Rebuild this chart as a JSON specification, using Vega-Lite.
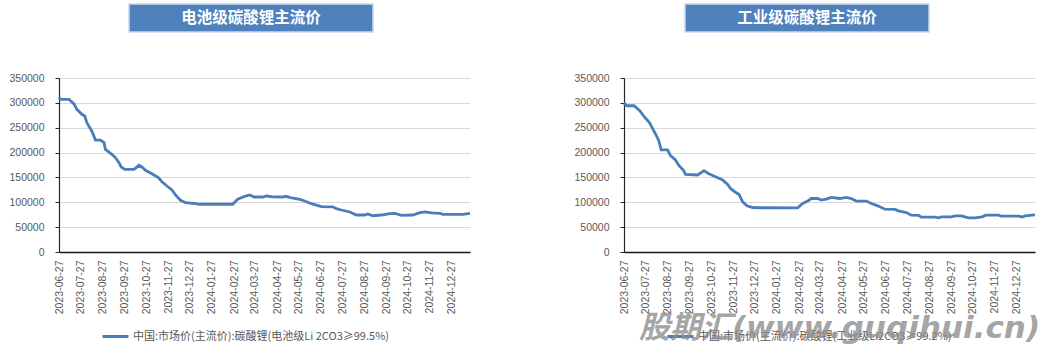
{
  "$schema": "https://vega.github.io/schema/vega-lite/v6.json",
  "background": "white",
  "padding": {"left": 8, "top": 3, "right": 0, "bottom": 0},
  "config": {
    "view": {"stroke": null},
    "font": "Liberation Sans",
    "axis": {"labelFont": "Liberation Sans", "labelFontSize": 10.5, "labelColor": "#595959", "title": null}
  },
  "resolve": {"scale": {"color": "independent", "x": "independent", "y": "independent"}, "legend": {"color": "independent"}},
  "datasets": {
    "battery": [
      {"date": "2023-06-27", "price": 311000},
      {"date": "2023-06-29", "price": 307000},
      {"date": "2023-07-11", "price": 307000},
      {"date": "2023-07-18", "price": 298000},
      {"date": "2023-07-22", "price": 287000},
      {"date": "2023-07-29", "price": 277000},
      {"date": "2023-08-02", "price": 273500},
      {"date": "2023-08-05", "price": 260000},
      {"date": "2023-08-12", "price": 243000},
      {"date": "2023-08-17", "price": 225000},
      {"date": "2023-08-24", "price": 225000},
      {"date": "2023-08-29", "price": 220000},
      {"date": "2023-08-31", "price": 206500},
      {"date": "2023-09-09", "price": 196500},
      {"date": "2023-09-14", "price": 189700},
      {"date": "2023-09-19", "price": 179600},
      {"date": "2023-09-22", "price": 171000},
      {"date": "2023-09-27", "price": 166300},
      {"date": "2023-10-10", "price": 166300},
      {"date": "2023-10-17", "price": 174400},
      {"date": "2023-10-21", "price": 171000},
      {"date": "2023-10-26", "price": 164300},
      {"date": "2023-11-04", "price": 157500},
      {"date": "2023-11-13", "price": 149500},
      {"date": "2023-11-18", "price": 141400},
      {"date": "2023-11-25", "price": 132800},
      {"date": "2023-12-02", "price": 124700},
      {"date": "2023-12-07", "price": 114700},
      {"date": "2023-12-14", "price": 104000},
      {"date": "2023-12-21", "price": 99200},
      {"date": "2024-01-04", "price": 97200},
      {"date": "2024-01-09", "price": 96000},
      {"date": "2024-02-25", "price": 96000},
      {"date": "2024-03-03", "price": 106000},
      {"date": "2024-03-14", "price": 112600},
      {"date": "2024-03-20", "price": 114700},
      {"date": "2024-03-26", "price": 110600},
      {"date": "2024-04-07", "price": 110600},
      {"date": "2024-04-12", "price": 112600},
      {"date": "2024-04-21", "price": 111000},
      {"date": "2024-05-05", "price": 110600},
      {"date": "2024-05-09", "price": 112000},
      {"date": "2024-05-16", "price": 109200},
      {"date": "2024-05-29", "price": 106000},
      {"date": "2024-06-02", "price": 104000},
      {"date": "2024-06-14", "price": 97200},
      {"date": "2024-06-28", "price": 91100},
      {"date": "2024-07-14", "price": 90900},
      {"date": "2024-07-19", "price": 87100},
      {"date": "2024-07-26", "price": 84500},
      {"date": "2024-08-07", "price": 80500},
      {"date": "2024-08-16", "price": 74400},
      {"date": "2024-08-28", "price": 74400},
      {"date": "2024-09-01", "price": 76400},
      {"date": "2024-09-08", "price": 73000},
      {"date": "2024-09-20", "price": 74400},
      {"date": "2024-10-02", "price": 77000},
      {"date": "2024-10-09", "price": 77600},
      {"date": "2024-10-18", "price": 73800},
      {"date": "2024-11-03", "price": 74400},
      {"date": "2024-11-13", "price": 79000},
      {"date": "2024-11-20", "price": 80500},
      {"date": "2024-11-29", "price": 78500},
      {"date": "2024-12-11", "price": 77600},
      {"date": "2024-12-15", "price": 75800},
      {"date": "2025-01-12", "price": 75800},
      {"date": "2025-01-22", "price": 77600}
    ],
    "industrial": [
      {"date": "2023-06-27", "price": 299500},
      {"date": "2023-07-01", "price": 294200},
      {"date": "2023-07-11", "price": 294200},
      {"date": "2023-07-19", "price": 284200},
      {"date": "2023-07-25", "price": 272600},
      {"date": "2023-07-30", "price": 264600},
      {"date": "2023-08-02", "price": 259200},
      {"date": "2023-08-07", "price": 245700},
      {"date": "2023-08-12", "price": 232300},
      {"date": "2023-08-15", "price": 222200},
      {"date": "2023-08-18", "price": 205400},
      {"date": "2023-08-27", "price": 205400},
      {"date": "2023-08-31", "price": 193900},
      {"date": "2023-09-07", "price": 185200},
      {"date": "2023-09-12", "price": 173700},
      {"date": "2023-09-18", "price": 165000},
      {"date": "2023-09-21", "price": 156100},
      {"date": "2023-10-08", "price": 154900},
      {"date": "2023-10-17", "price": 163600},
      {"date": "2023-10-23", "price": 158100},
      {"date": "2023-11-02", "price": 151500},
      {"date": "2023-11-12", "price": 144800},
      {"date": "2023-11-19", "price": 135900},
      {"date": "2023-11-23", "price": 127800},
      {"date": "2023-11-29", "price": 121200},
      {"date": "2023-12-05", "price": 115700},
      {"date": "2023-12-10", "price": 101000},
      {"date": "2023-12-16", "price": 92900},
      {"date": "2023-12-24", "price": 89500},
      {"date": "2023-12-31", "price": 89000},
      {"date": "2024-02-25", "price": 88900},
      {"date": "2024-03-03", "price": 97600},
      {"date": "2024-03-10", "price": 102400},
      {"date": "2024-03-15", "price": 107600},
      {"date": "2024-03-24", "price": 107600},
      {"date": "2024-03-29", "price": 104400},
      {"date": "2024-04-05", "price": 106500},
      {"date": "2024-04-12", "price": 109700},
      {"date": "2024-04-24", "price": 107600},
      {"date": "2024-05-03", "price": 109700},
      {"date": "2024-05-10", "price": 107600},
      {"date": "2024-05-17", "price": 102400},
      {"date": "2024-05-31", "price": 102400},
      {"date": "2024-06-07", "price": 97600},
      {"date": "2024-06-16", "price": 92900},
      {"date": "2024-06-26", "price": 86200},
      {"date": "2024-07-10", "price": 85600},
      {"date": "2024-07-15", "price": 82800},
      {"date": "2024-07-26", "price": 79400},
      {"date": "2024-08-02", "price": 74100},
      {"date": "2024-08-12", "price": 73700},
      {"date": "2024-08-16", "price": 70100},
      {"date": "2024-09-04", "price": 70100},
      {"date": "2024-09-09", "price": 68700},
      {"date": "2024-09-13", "price": 70700},
      {"date": "2024-09-27", "price": 70700},
      {"date": "2024-10-02", "price": 72700},
      {"date": "2024-10-11", "price": 72700},
      {"date": "2024-10-21", "price": 68700},
      {"date": "2024-10-30", "price": 68700},
      {"date": "2024-11-09", "price": 70700},
      {"date": "2024-11-14", "price": 74100},
      {"date": "2024-12-02", "price": 74100},
      {"date": "2024-12-06", "price": 72000},
      {"date": "2024-12-30", "price": 72000},
      {"date": "2025-01-04", "price": 70500},
      {"date": "2025-01-08", "price": 72700},
      {"date": "2025-01-22", "price": 74700}
    ]
  },
  "spacing": 40,
  "vconcat": [
    {
      "spacing": 0,
      "hconcat": [
        {
          "width": 69,
          "height": 28,
          "data": {"values": [{"t": ""}]},
          "mark": {"type": "text"},
          "encoding": {"text": {"field": "t"}}
        },
        {
          "spacing": 310,
          "hconcat": [
            {
              "width": 244,
              "height": 28,
              "view": {"fill": "#4f81bd", "stroke": "#c9d7ea", "strokeWidth": 1.5},
              "data": {"values": [{"t": "电池级碳酸锂主流价"}]},
              "mark": {"type": "text", "color": "white", "font": "Noto Sans CJK SC", "fontWeight": "bold", "fontSize": 15.5, "align": "center", "baseline": "middle"},
              "encoding": {"text": {"field": "t"}}
            },
            {
              "width": 244,
              "height": 28,
              "view": {"fill": "#4f81bd", "stroke": "#c9d7ea", "strokeWidth": 1.5},
              "data": {"values": [{"t": "工业级碳酸锂主流价"}]},
              "mark": {"type": "text", "color": "white", "font": "Noto Sans CJK SC", "fontWeight": "bold", "fontSize": 15.5, "align": "center", "baseline": "middle"},
              "encoding": {"text": {"field": "t"}}
            }
          ]
        }
      ]
    },
    {
      "spacing": 97,
      "resolve": {"scale": {"color": "independent"}, "legend": {"color": "independent"}},
      "hconcat": [
        {
          "width": 411,
          "height": 174,
          "data": {"name": "battery"},
          "mark": {"type": "line", "strokeWidth": 2.8},
          "encoding": {
            "x": {
              "field": "date", "type": "temporal",
              "scale": {"type": "utc", "nice": false},
              "axis": {
                "values": [
                  {"year": 2023, "month": 6, "date": 27, "utc": true},
                  {"year": 2023, "month": 7, "date": 27, "utc": true},
                  {"year": 2023, "month": 8, "date": 27, "utc": true},
                  {"year": 2023, "month": 9, "date": 27, "utc": true},
                  {"year": 2023, "month": 10, "date": 27, "utc": true},
                  {"year": 2023, "month": 11, "date": 27, "utc": true},
                  {"year": 2023, "month": 12, "date": 27, "utc": true},
                  {"year": 2024, "month": 1, "date": 27, "utc": true},
                  {"year": 2024, "month": 2, "date": 27, "utc": true},
                  {"year": 2024, "month": 3, "date": 27, "utc": true},
                  {"year": 2024, "month": 4, "date": 27, "utc": true},
                  {"year": 2024, "month": 5, "date": 27, "utc": true},
                  {"year": 2024, "month": 6, "date": 27, "utc": true},
                  {"year": 2024, "month": 7, "date": 27, "utc": true},
                  {"year": 2024, "month": 8, "date": 27, "utc": true},
                  {"year": 2024, "month": 9, "date": 27, "utc": true},
                  {"year": 2024, "month": 10, "date": 27, "utc": true},
                  {"year": 2024, "month": 11, "date": 27, "utc": true},
                  {"year": 2024, "month": 12, "date": 27, "utc": true}
                ],
                "format": "%Y-%m-%d",
                "labelAngle": 270,
                "ticks": false,
                "labelPadding": 8,
                "grid": false,
                "labelFlush": false,
                "labelOverlap": false,
                "domainColor": "#1a1a1a",
                "domainWidth": 1.5
              }
            },
            "y": {
              "field": "price", "type": "quantitative",
              "scale": {"domain": [0, 350000], "nice": false},
              "axis": {
                "values": [0, 50000, 100000, 150000, 200000, 250000, 300000, 350000],
                "format": "d",
                "tickSize": 4,
                "tickColor": "#262626",
                "labelPadding": 11,
                "grid": true,
                "gridColor": "#d9d9d9",
                "gridWidth": 1,
                "domainColor": "#262626",
                "domainWidth": 1.2
              }
            },
            "color": {
              "datum": "中国:市场价(主流价):碳酸锂(电池级Li 2CO3≥99.5%)",
              "scale": {"range": ["#4a7ebb"]},
              "legend": {
                "orient": "none", "legendX": 42, "legendY": 244, "title": null, "padding": 0,
                "symbolType": "stroke", "symbolSize": 676, "symbolStrokeWidth": 3,
                "labelFont": "Noto Sans CJK SC", "labelFontSize": 11, "labelColor": "#595959",
                "labelLimit": 500, "labelOffset": 3
              }
            }
          }
        },
        {
          "width": 411,
          "height": 174,
          "title": {
            "text": "股期汇(www.guqihui.cn)",
            "orient": "bottom", "anchor": "middle", "frame": "group",
            "font": "DejaVu Sans, Noto Sans CJK SC", "fontSize": 31, "fontWeight": "bold", "fontStyle": "italic",
            "color": "rgba(140,140,140,0.8)", "dy": -29, "dx": 10, "offset": 0
          },
          "data": {"name": "industrial"},
          "mark": {"type": "line", "strokeWidth": 2.8},
          "encoding": {
            "x": {
              "field": "date", "type": "temporal",
              "scale": {"type": "utc", "nice": false},
              "axis": {
                "values": [
                  {"year": 2023, "month": 6, "date": 27, "utc": true},
                  {"year": 2023, "month": 7, "date": 27, "utc": true},
                  {"year": 2023, "month": 8, "date": 27, "utc": true},
                  {"year": 2023, "month": 9, "date": 27, "utc": true},
                  {"year": 2023, "month": 10, "date": 27, "utc": true},
                  {"year": 2023, "month": 11, "date": 27, "utc": true},
                  {"year": 2023, "month": 12, "date": 27, "utc": true},
                  {"year": 2024, "month": 1, "date": 27, "utc": true},
                  {"year": 2024, "month": 2, "date": 27, "utc": true},
                  {"year": 2024, "month": 3, "date": 27, "utc": true},
                  {"year": 2024, "month": 4, "date": 27, "utc": true},
                  {"year": 2024, "month": 5, "date": 27, "utc": true},
                  {"year": 2024, "month": 6, "date": 27, "utc": true},
                  {"year": 2024, "month": 7, "date": 27, "utc": true},
                  {"year": 2024, "month": 8, "date": 27, "utc": true},
                  {"year": 2024, "month": 9, "date": 27, "utc": true},
                  {"year": 2024, "month": 10, "date": 27, "utc": true},
                  {"year": 2024, "month": 11, "date": 27, "utc": true},
                  {"year": 2024, "month": 12, "date": 27, "utc": true}
                ],
                "format": "%Y-%m-%d",
                "labelAngle": 270,
                "ticks": false,
                "labelPadding": 8,
                "grid": false,
                "labelFlush": false,
                "labelOverlap": false,
                "domainColor": "#1a1a1a",
                "domainWidth": 1.5
              }
            },
            "y": {
              "field": "price", "type": "quantitative",
              "scale": {"domain": [0, 350000], "nice": false},
              "axis": {
                "values": [0, 50000, 100000, 150000, 200000, 250000, 300000, 350000],
                "format": "d",
                "tickSize": 4,
                "tickColor": "#262626",
                "labelPadding": 11,
                "grid": true,
                "gridColor": "#d9d9d9",
                "gridWidth": 1,
                "domainColor": "#262626",
                "domainWidth": 1.2
              }
            },
            "color": {
              "datum": "中国:市场价(主流价):碳酸锂(工业级Li2CO3≥99.2%)",
              "scale": {"range": ["#4a7ebb"]},
              "legend": {
                "orient": "none", "legendX": 42, "legendY": 244, "title": null, "padding": 0,
                "symbolType": "stroke", "symbolSize": 676, "symbolStrokeWidth": 3,
                "labelFont": "Noto Sans CJK SC", "labelFontSize": 11, "labelColor": "#595959",
                "labelLimit": 500, "labelOffset": 3
              }
            }
          }
        }
      ]
    }
  ]
}
